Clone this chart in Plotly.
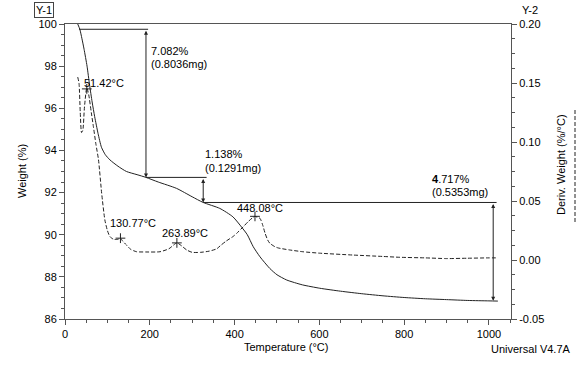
import plotly.graph_objects as go

# ---- data ----
temp_w = [30, 35, 40, 45, 52, 58, 64, 70, 78, 86, 95, 106, 125, 145, 170, 191, 220, 263, 300, 326,
          365, 396, 417, 430, 444, 460, 483, 500, 523, 560, 601, 650, 700, 750, 800, 850, 900, 950, 1000, 1021]
weight = [100.0, 99.75, 99.3, 98.8, 98.0, 97.1, 96.3, 95.6, 94.8, 94.15, 93.8, 93.55, 93.25, 93.0, 92.85, 92.72,
          92.5, 92.2, 91.8, 91.53, 91.25, 90.85, 90.35, 90.0, 89.43, 88.95, 88.4, 88.1, 87.85, 87.62, 87.46,
          87.32, 87.2, 87.1, 87.02, 86.96, 86.92, 86.88, 86.86, 86.85]

temp_d = [30, 33, 36, 39, 42, 46, 51.42, 56, 62, 67, 73, 79, 86.5, 94, 100, 106, 115, 125, 130.77, 136, 145,
          155, 169, 190, 224, 245, 263.89, 275, 287, 300, 320, 340, 358, 366, 380, 396, 405, 420, 432, 443,
          448.08, 455, 460, 466, 472, 478, 483, 495, 503, 530, 561, 600, 679, 750, 790, 850, 900, 950, 1000, 1020]
deriv = [0.155, 0.150, 0.125, 0.108, 0.110, 0.130, 0.146, 0.140, 0.125, 0.113, 0.098, 0.085, 0.0565, 0.034,
         0.025, 0.0198, 0.0175, 0.0175, 0.0185, 0.016, 0.0127, 0.009, 0.007, 0.0068, 0.007, 0.0095, 0.0145,
         0.012, 0.0085, 0.0065, 0.0065, 0.0075, 0.0095, 0.012, 0.016, 0.0198, 0.0226, 0.028, 0.0325, 0.036,
         0.037, 0.036, 0.0353, 0.030, 0.0226, 0.017, 0.0142, 0.0113, 0.0102, 0.0085, 0.007, 0.0058, 0.0042,
         0.003, 0.0023, 0.0018, 0.0012, 0.0015, 0.0018, 0.0018]

peak_temps = [51.42, 130.77, 263.89, 448.08]
peak_vals = [0.145, 0.0185, 0.0145, 0.037]
peak_labels = ["51.42°C", "130.77°C", "263.89°C", "448.08°C"]
peak_label_pos = [(40, 0.150), (102, 0.0311), (224, 0.0231), (401, 0.0438)]

# step changes: (arrow T, upper W, lower W, line start T, line end T, label1, label2, label T, label W1, label W2)
steps = [
    (191, 99.75, 92.72, 33, 196, "7.082%", "(0.8036mg)", 199, 98.73, 98.09),
    (326, 92.72, 91.53, 191, 334, "1.138%", "(0.1291mg)", 325, 93.83, 93.15),
    (1010, 91.53, 86.87, 326, 1018, "<b>4</b>.717%", "(0.5353mg)", 861, 92.64, 92.01),
]

FONT = "Liberation Sans, Arial, sans-serif"
FS = 11
LC = "#222222"
AX = "#555555"

fig = go.Figure()
fig.add_trace(go.Scatter(x=temp_w, y=weight, mode="lines", line=dict(color=LC, width=1, shape="spline", smoothing=0.6),
                         showlegend=False, hoverinfo="skip"))
fig.add_trace(go.Scatter(x=temp_d, y=deriv, mode="lines", yaxis="y2",
                         line=dict(color=LC, width=1, dash="4px,2px", shape="spline", smoothing=0.6),
                         showlegend=False, hoverinfo="skip"))
fig.add_trace(go.Scatter(x=peak_temps, y=peak_vals, mode="markers", yaxis="y2",
                         marker=dict(symbol="cross-thin", size=7, line=dict(color=LC, width=1)),
                         showlegend=False, hoverinfo="skip"))

annotations = []
shapes = []
for (tx, w_hi, w_lo, t0, t1, l1, l2, lt, lw1, lw2) in steps:
    shapes.append(dict(type="line", xref="x", yref="y", x0=t0, x1=t1, y0=w_hi, y1=w_hi,
                       line=dict(color=LC, width=1)))
    annotations.append(dict(x=tx, y=w_lo, ax=tx, ay=w_hi, xref="x", yref="y", axref="x", ayref="y",
                            text="", showarrow=True, arrowhead=2, arrowside="end+start", arrowsize=0.8,
                            arrowwidth=1, arrowcolor=LC))
    annotations.append(dict(x=lt, y=lw1, xref="x", yref="y", text=l1, showarrow=False, xanchor="left",
                            yanchor="middle", font=dict(size=FS, color="#000", family=FONT)))
    annotations.append(dict(x=lt, y=lw2, xref="x", yref="y", text=l2, showarrow=False, xanchor="left",
                            yanchor="middle", font=dict(size=FS, color="#000", family=FONT)))

for lab, (lx, ly) in zip(peak_labels, peak_label_pos):
    annotations.append(dict(x=lx, y=ly, xref="x", yref="y2", text=lab, showarrow=False, xanchor="left",
                            yanchor="middle", font=dict(size=FS, color="#000", family=FONT)))

W, H = 584, 365
L_page, R_page, T_page, B_page = 65, 511, 24, 319
L, T = L_page, T_page
R = W - R_page
B = H - B_page
pw, ph = R_page - L_page, B_page - T_page
def px(x):
    return (x - L_page) / pw
def py(y):
    return (B_page - y) / ph

def txt(x, y, s, xa="center", ya="middle", **kw):
    d = dict(x=px(x), y=py(y), xref="paper", yref="paper", text=s, showarrow=False,
             xanchor=xa, yanchor=ya, font=dict(size=FS, color="#000", family=FONT))
    d.update(kw)
    return d

annotations += [
    txt(43.5, 9.5, "Y-1", bordercolor="#444", borderwidth=1, borderpad=1),
    txt(530, 10, "Y-2"),
    txt(22, 171, "Weight (%)", textangle=-90),
    txt(561, 165, "Deriv. Weight (%/°C)", textangle=-90),
    txt(286, 347, "Temperature (°C)"),
    txt(573, 349, "Universal V4.7A", xa="right"),
]
shapes.append(dict(type="line", xref="paper", yref="paper", x0=px(575), x1=px(575), y0=py(110), y1=py(224),
                   line=dict(color=LC, width=1, dash="4px,2px")))

tickfont = dict(size=FS, color="#000", family=FONT)
fig.update_layout(
    width=W, height=H, margin=dict(l=L, r=R, t=T, b=B),
    paper_bgcolor="white", plot_bgcolor="white",
    font=dict(family=FONT, size=FS, color="#000"),
    xaxis=dict(range=[0, 1052], tickvals=[0, 200, 400, 600, 800, 1000], showgrid=False, zeroline=False,
               showline=True, linecolor=AX, linewidth=1, mirror=True, ticks="outside", ticklen=5,
               tickcolor=AX, tickfont=tickfont,
               minor=dict(dtick=50, tick0=0, ticks="outside", ticklen=3, tickcolor=AX, showgrid=False)),
    yaxis=dict(range=[86, 100], tickvals=[86, 88, 90, 92, 94, 96, 98, 100], showgrid=False, zeroline=False,
               showline=True, linecolor=AX, linewidth=1, ticks="outside", ticklen=5, tickcolor=AX,
               tickfont=tickfont,
               minor=dict(dtick=0.5, tick0=86, ticks="outside", ticklen=3, tickcolor=AX, showgrid=False)),
    yaxis2=dict(range=[-0.05, 0.20], overlaying="y", side="right", tickvals=[-0.05, 0, 0.05, 0.10, 0.15, 0.20],
                ticktext=["-0.05", "0.00", "0.05", "0.10", "0.15", "0.20"], showgrid=False, zeroline=False,
                showline=True, linecolor=AX, linewidth=1, ticks="outside", ticklen=5, tickcolor=AX,
                tickfont=tickfont,
                minor=dict(dtick=0.0125, tick0=-0.05, ticks="outside", ticklen=3, tickcolor=AX, showgrid=False)),
    annotations=annotations, shapes=shapes,
)
fig.write_html("out.html", config={"displayModeBar": False},
               post_script="document.body.style.margin='0px';")
